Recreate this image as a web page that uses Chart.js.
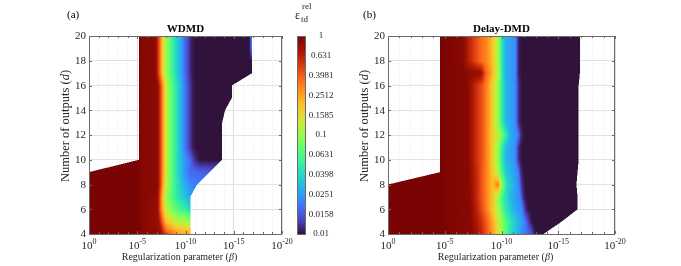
<!DOCTYPE html>
<html>
<head>
<meta charset="utf-8">
<script src="https://cdn.jsdelivr.net/npm/chart.js@4.4.0/dist/chart.umd.min.js"></script>
<style>
body { margin: 0; background: #fff; width: 681px; height: 266px; overflow: hidden; position: relative; }
canvas { position: absolute; top: 0; }
</style>
</head>
<body>
<canvas id="wdmdChart" width="340" height="266" style="left:0"></canvas>
<canvas id="delayChart" width="341" height="266" style="left:340px"></canvas>
<script>
// number of outputs d (rows of the grid)
const outputs = [4, 5, 6, 7, 8, 9, 10, 11, 12, 13, 14, 15, 16, 17, 18, 19, 20];
const betaTicks = [0, -5, -10, -15, -20];          // log10(beta)
const outputTicks = [4, 6, 8, 10, 12, 14, 16, 18, 20];
const cbarTicks = [0.01, 0.0158, 0.0251, 0.0398, 0.0631, 0.1, 0.1585, 0.2512, 0.3981, 0.631, 1];
const cbarLabels = ['0.01', '0.0158', '0.0251', '0.0398', '0.0631', '0.1', '0.1585', '0.2512', '0.3981', '0.631', '1'];

// each row: [log10(beta), eps_td^rel] pairs for d = 4..20, first and last pair bound the data
const wdmdRows = [
  [[0,1],[-5.2,1],[-5.4,0.93],[-7.4,0.85],[-8.0,0.45],[-8.9,0.3],[-9.5,0.25],[-10.5,0.25]],
  [[0,1],[-5.2,1],[-5.4,0.93],[-7.2,0.8],[-7.6,0.4],[-8.0,0.2],[-9.0,0.13],[-10.0,0.11],[-10.5,0.1]],
  [[0,1],[-5.2,1],[-5.4,0.93],[-7.1,0.8],[-7.5,0.32],[-8.0,0.12],[-9.0,0.07],[-10.0,0.05],[-10.5,0.04]],
  [[0,1],[-5.2,1],[-5.4,0.93],[-7.1,0.85],[-7.5,0.3],[-8.0,0.1],[-9.0,0.05],[-10.0,0.032],[-10.5,0.025]],
  [[0,1],[-5.2,1],[-5.4,0.93],[-7.1,0.88],[-7.4,0.5],[-7.6,0.3],[-7.9,0.15],[-8.3,0.09],[-9.0,0.05],[-9.8,0.03],[-10.5,0.022],[-11.2,0.02]],
  [[0,1],[-5.2,1],[-5.4,0.93],[-7.1,0.88],[-7.4,0.5],[-7.6,0.32],[-7.9,0.16],[-8.2,0.1],[-8.7,0.063],[-9.2,0.04],[-9.8,0.025],[-10.5,0.018],[-12.5,0.016]],
  [[-5.2,1],[-5.4,0.93],[-7.1,0.88],[-7.4,0.5],[-7.6,0.32],[-7.9,0.16],[-8.2,0.1],[-8.7,0.063],[-9.2,0.04],[-9.7,0.028],[-10.3,0.02],[-11.0,0.012],[-11.5,0.01],[-13.8,0.01]],
  [[-5.2,1],[-5.4,0.93],[-7.1,0.88],[-7.4,0.5],[-7.6,0.32],[-7.9,0.16],[-8.2,0.1],[-8.7,0.063],[-9.2,0.04],[-9.6,0.028],[-10.1,0.017],[-10.7,0.011],[-11.1,0.01],[-13.8,0.01]],
  [[-5.2,1],[-5.4,0.93],[-7.1,0.88],[-7.4,0.5],[-7.6,0.32],[-7.9,0.16],[-8.2,0.1],[-8.7,0.063],[-9.2,0.04],[-9.6,0.028],[-10.1,0.017],[-10.7,0.011],[-11.1,0.01],[-13.8,0.01]],
  [[-5.2,1],[-5.4,0.93],[-7.1,0.88],[-7.4,0.5],[-7.6,0.32],[-7.9,0.16],[-8.2,0.1],[-8.7,0.063],[-9.2,0.04],[-9.6,0.028],[-10.1,0.017],[-10.7,0.011],[-11.1,0.01],[-13.8,0.01]],
  [[-5.2,1],[-5.4,0.93],[-7.1,0.88],[-7.4,0.5],[-7.6,0.32],[-7.9,0.16],[-8.2,0.1],[-8.7,0.063],[-9.2,0.04],[-9.6,0.028],[-10.1,0.017],[-10.7,0.011],[-11.1,0.01],[-14.1,0.01]],
  [[-5.2,1],[-5.4,0.93],[-7.1,0.88],[-7.4,0.5],[-7.6,0.32],[-7.9,0.16],[-8.2,0.1],[-8.7,0.063],[-9.2,0.04],[-9.6,0.028],[-10.1,0.017],[-10.7,0.011],[-11.1,0.01],[-14.8,0.01]],
  [[-5.2,1],[-5.4,0.93],[-7.1,0.88],[-7.4,0.5],[-7.6,0.32],[-7.9,0.16],[-8.2,0.1],[-8.7,0.063],[-9.2,0.04],[-9.6,0.028],[-10.1,0.017],[-10.7,0.011],[-11.1,0.01],[-14.8,0.01]],
  [[-5.2,1],[-5.4,0.93],[-6.9,0.88],[-7.2,0.5],[-7.4,0.32],[-7.7,0.16],[-8.0,0.1],[-8.5,0.063],[-9.0,0.04],[-9.5,0.028],[-10.0,0.017],[-10.6,0.011],[-11.0,0.01],[-16.9,0.01]],
  [[-5.2,1],[-5.4,0.93],[-6.9,0.88],[-7.2,0.5],[-7.4,0.32],[-7.7,0.16],[-8.0,0.1],[-8.5,0.063],[-9.0,0.04],[-9.5,0.028],[-10.0,0.017],[-10.6,0.011],[-11.0,0.01],[-16.9,0.01]],
  [[-5.2,1],[-5.4,0.93],[-6.9,0.88],[-7.2,0.5],[-7.4,0.32],[-7.7,0.16],[-8.0,0.1],[-8.5,0.063],[-9.0,0.04],[-9.5,0.028],[-10.0,0.017],[-10.6,0.011],[-11.0,0.01],[-16.6,0.01],[-16.9,0.022]],
  [[-5.2,1],[-5.4,0.93],[-6.9,0.88],[-7.2,0.5],[-7.4,0.32],[-7.7,0.16],[-8.0,0.1],[-8.5,0.063],[-9.0,0.04],[-9.5,0.028],[-10.0,0.017],[-10.6,0.011],[-11.0,0.01],[-16.6,0.01],[-16.9,0.022]]
];

const delayRows = [
  [[0,1],[-4.6,1],[-7.4,0.9],[-8.2,0.6],[-8.9,0.35],[-9.5,0.2],[-10.2,0.08],[-10.9,0.04],[-11.8,0.023],[-12.6,0.016],[-13.0,0.01],[-13.7,0.01]],
  [[0,1],[-4.6,1],[-7.3,0.9],[-8.1,0.6],[-8.7,0.4],[-9.3,0.22],[-9.9,0.11],[-10.5,0.06],[-11.2,0.035],[-12.0,0.022],[-12.4,0.013],[-12.7,0.01],[-15.3,0.01]],
  [[0,1],[-4.6,1],[-7.2,0.9],[-8.0,0.55],[-8.6,0.35],[-9.2,0.2],[-9.8,0.1],[-10.3,0.05],[-11.0,0.03],[-11.8,0.022],[-12.1,0.012],[-12.4,0.01],[-16.7,0.01]],
  [[0,1],[-4.6,1],[-7.2,0.9],[-7.9,0.55],[-8.6,0.33],[-9.2,0.2],[-9.7,0.1],[-10.2,0.05],[-10.8,0.03],[-11.6,0.022],[-11.9,0.012],[-12.2,0.01],[-16.7,0.01]],
  [[0,1],[-4.6,1],[-7.1,0.9],[-7.9,0.55],[-8.6,0.33],[-9.2,0.2],[-9.7,0.35],[-10.0,0.1],[-10.5,0.04],[-11.5,0.022],[-11.8,0.012],[-12.1,0.01],[-16.6,0.01]],
  [[-4.6,1],[-7.1,0.9],[-7.9,0.55],[-8.6,0.33],[-9.2,0.2],[-9.6,0.12],[-10.0,0.063],[-10.4,0.035],[-11.4,0.023],[-11.7,0.012],[-12.0,0.01],[-16.7,0.01]],
  [[-4.6,1],[-7.0,0.9],[-7.8,0.55],[-8.4,0.4],[-8.9,0.25],[-9.3,0.158],[-9.7,0.1],[-10.1,0.046],[-10.4,0.03],[-11.2,0.023],[-11.5,0.012],[-11.8,0.01],[-16.8,0.01]],
  [[-4.6,1],[-7.0,0.9],[-7.8,0.55],[-8.4,0.4],[-8.9,0.25],[-9.3,0.158],[-9.7,0.1],[-10.1,0.046],[-10.4,0.03],[-11.2,0.023],[-11.5,0.012],[-11.8,0.01],[-16.8,0.01]],
  [[-4.6,1],[-7.0,0.9],[-7.8,0.55],[-8.4,0.4],[-8.9,0.25],[-9.4,0.158],[-9.9,0.1],[-10.4,0.05],[-10.7,0.03],[-11.4,0.022],[-11.7,0.012],[-12.0,0.01],[-16.8,0.01]],
  [[-4.6,1],[-7.0,0.9],[-7.8,0.55],[-8.4,0.4],[-8.9,0.25],[-9.3,0.158],[-9.7,0.1],[-10.1,0.046],[-10.4,0.03],[-11.2,0.023],[-11.5,0.012],[-11.8,0.01],[-16.8,0.01]],
  [[-4.6,1],[-7.0,0.9],[-7.8,0.55],[-8.4,0.4],[-8.9,0.25],[-9.3,0.158],[-9.7,0.1],[-10.1,0.046],[-10.4,0.03],[-11.2,0.023],[-11.5,0.012],[-11.8,0.01],[-16.8,0.01]],
  [[-4.6,1],[-7.0,0.9],[-7.8,0.55],[-8.4,0.4],[-8.9,0.25],[-9.3,0.158],[-9.7,0.1],[-10.1,0.046],[-10.4,0.03],[-11.2,0.023],[-11.5,0.012],[-11.8,0.01],[-16.8,0.01]],
  [[-4.6,1],[-7.0,0.9],[-7.8,0.55],[-8.4,0.4],[-8.9,0.25],[-9.3,0.158],[-9.7,0.1],[-10.1,0.046],[-10.4,0.03],[-11.2,0.023],[-11.5,0.012],[-11.8,0.01],[-16.8,0.01]],
  [[-4.6,1],[-7.0,0.9],[-8.2,0.8],[-8.6,0.4],[-9.1,0.25],[-9.5,0.158],[-9.9,0.079],[-10.1,0.04],[-10.4,0.028],[-11.2,0.023],[-11.5,0.011],[-11.8,0.01],[-16.9,0.01]],
  [[-4.6,1],[-6.6,0.9],[-7.2,0.6],[-8.0,0.4],[-8.7,0.3],[-9.2,0.2],[-9.6,0.125],[-9.9,0.07],[-10.1,0.04],[-10.4,0.028],[-11.2,0.023],[-11.5,0.011],[-11.8,0.01],[-16.9,0.01]],
  [[-4.6,1],[-6.6,0.9],[-7.2,0.6],[-8.0,0.4],[-8.7,0.3],[-9.2,0.2],[-9.6,0.125],[-9.9,0.07],[-10.1,0.04],[-10.4,0.028],[-11.2,0.023],[-11.5,0.011],[-11.8,0.01],[-16.9,0.01]],
  [[-4.6,1],[-6.6,0.9],[-7.2,0.6],[-8.0,0.4],[-8.7,0.3],[-9.2,0.2],[-9.6,0.125],[-9.9,0.07],[-10.1,0.04],[-10.4,0.028],[-11.2,0.023],[-11.5,0.011],[-11.8,0.01],[-16.9,0.01]]
];

const SERIF = '"Liberation Serif", "Times New Roman", serif';

// turbo colormap (polynomial fit, true end colours)
function turboPoly(t) {
    const r = 0.13572138 + t * (4.61539260 + t * (-42.66032258 + t * (132.13108234 + t * (-152.94239396 + t * 59.28637943))));
    const g = 0.09140261 + t * (2.19418839 + t * (4.84296658 + t * (-14.18503333 + t * (4.27729857 + t * 2.82956604))));
    const b = 0.10667330 + t * (12.64194608 + t * (-60.58204836 + t * (110.36276771 + t * (-89.90310912 + t * 27.34824973))));
    return [r * 255, g * 255, b * 255].map(v => Math.max(0, Math.min(255, v)));
}
function turbo(t) {
    t = Math.max(0, Math.min(1, t));
    if (t < 0.06) {
        const a = [48, 18, 59], b = turboPoly(0.06), f = t / 0.06;
        return a.map((v, i) => v + f * (b[i] - v));
    }
    if (t > 0.94) {
        const a = turboPoly(0.94), b = [122, 4, 3], f = (t - 0.94) / 0.06;
        return a.map((v, i) => v + f * (b[i] - v));
    }
    return turboPoly(t);
}

function rowLog(row, e) {
    if (e >= row[0][0]) return Math.log10(row[0][1]);
    for (let k = 1; k < row.length; k++) {
        if (e >= row[k][0]) {
            const a = row[k - 1], b = row[k];
            const f = (e - a[0]) / (b[0] - a[0]);
            return Math.log10(a[1]) + f * (Math.log10(b[1]) - Math.log10(a[1]));
        }
    }
    return Math.log10(row[row.length - 1][1]);
}

function sampleGrid(rows, e, d) {
    if (d < outputs[0] || d > outputs[outputs.length - 1]) return null;
    const i = Math.min(Math.floor(d - outputs[0]), rows.length - 2);
    const t = d - outputs[i];
    const A = rows[i], B = rows[i + 1];
    const lo = A[0][0] + t * (B[0][0] - A[0][0]);
    const hi = A[A.length - 1][0] + t * (B[B.length - 1][0] - A[A.length - 1][0]);
    if (e > lo + 1e-9 || e < hi - 1e-9) return null;
    return rowLog(A, e) * (1 - t) + rowLog(B, e) * t;
}

function contourPlugin(rows) {
    return {
        id: 'contour',
        beforeDatasetsDraw(chart) {
            const xs = chart.scales.x, ys = chart.scales.y, area = chart.chartArea;
            const w = Math.round(area.right - area.left), h = Math.round(area.bottom - area.top);
            const off = document.createElement('canvas');
            off.width = w; off.height = h;
            const octx = off.getContext('2d');
            const img = octx.createImageData(w, h);
            const sub = [0.25, 0.75];
            for (let py = 0; py < h; py++) {
                for (let px = 0; px < w; px++) {
                    let r = 0, g = 0, b = 0, n = 0;
                    for (const sy of sub) {
                        const d = ys.getValueForPixel(area.top + py + sy);
                        for (const sx of sub) {
                            const e = xs.getValueForPixel(area.left + px + sx);
                            const v = sampleGrid(rows, e, d);
                            if (v === null) continue;
                            const c = turbo((v + 2) / 2);
                            r += c[0]; g += c[1]; b += c[2]; n++;
                        }
                    }
                    if (!n) continue;
                    const k = (py * w + px) * 4;
                    img.data[k] = r / n; img.data[k + 1] = g / n; img.data[k + 2] = b / n;
                    img.data[k + 3] = 255 * n / 4;
                }
            }
            octx.putImageData(img, 0, 0);
            chart.ctx.drawImage(off, area.left, area.top);
        }
    };
}

function decorPlugin(cfg) {
    return {
        id: 'decor',
        afterDraw(chart) {
            const ctx = chart.ctx, area = chart.chartArea;
            const xs = chart.scales.x, ys = chart.scales.y;
            ctx.save();
            // box
            ctx.strokeStyle = '#6a6a6a';
            ctx.lineWidth = 1;
            ctx.strokeRect(area.left + 0.5, area.top + 0.5, area.right - area.left - 1, area.bottom - area.top);
            // ticks
            ctx.beginPath();
            for (let e = 0; e >= -20; e--) {
                const x = Math.round(xs.getPixelForValue(e)) + 0.5;
                const len = e % 5 === 0 ? 3 : 2;
                ctx.moveTo(x, area.bottom); ctx.lineTo(x, area.bottom - len);
                ctx.moveTo(x, area.top); ctx.lineTo(x, area.top + len);
            }
            outputTicks.forEach(d => {
                const y = Math.round(ys.getPixelForValue(d)) + 0.5;
                ctx.moveTo(area.left, y); ctx.lineTo(area.left + 3, y);
                ctx.moveTo(area.right, y); ctx.lineTo(area.right - 3, y);
            });
            ctx.stroke();

            ctx.fillStyle = '#262626';
            // y tick labels
            ctx.font = '11px ' + SERIF;
            ctx.textAlign = 'right';
            ctx.textBaseline = 'middle';
            outputTicks.forEach(d => ctx.fillText(String(d), area.left - 3, ys.getPixelForValue(d) + 0.5));
            // x tick labels 10^e
            ctx.textAlign = 'left';
            ctx.textBaseline = 'alphabetic';
            betaTicks.forEach(e => {
                const sup = e === 0 ? '0' : '-' + Math.abs(e);
                ctx.font = '11px ' + SERIF;
                const w1 = ctx.measureText('10').width;
                ctx.font = '8px ' + SERIF;
                const w2 = ctx.measureText(sup).width;
                const x0 = xs.getPixelForValue(e) - (w1 + w2) / 2;
                ctx.font = '11px ' + SERIF;
                ctx.fillText('10', x0, 249);
                ctx.font = '8px ' + SERIF;
                ctx.fillText(sup, x0 + w1, 244);
            });
            // axis titles
            const cx = (area.left + area.right) / 2;
            ctx.font = '10px ' + SERIF;
            ctx.textAlign = 'left';
            const t1 = 'Regularization parameter (', t2 = '\u03b2', t3 = ')';
            const w1 = ctx.measureText(t1).width;
            ctx.font = 'italic 10px ' + SERIF;
            const w2 = ctx.measureText(t2).width;
            ctx.font = '10px ' + SERIF;
            const w3 = ctx.measureText(t3).width;
            let xt = cx - 6 - (w1 + w2 + w3) / 2;
            ctx.fillText(t1, xt, 260);
            ctx.font = 'italic 10px ' + SERIF;
            ctx.fillText(t2, xt + w1, 260);
            ctx.font = '10px ' + SERIF;
            ctx.fillText(t3, xt + w1 + w2, 260);

            ctx.save();
            ctx.translate(cfg.yTitleX, (area.top + area.bottom) / 2 - 9);
            ctx.rotate(-Math.PI / 2);
            ctx.font = '12.5px ' + SERIF;
            const s1 = 'Number of outputs (', s2 = 'd', s3 = ')';
            const v1 = ctx.measureText(s1).width;
            ctx.font = 'italic 12.5px ' + SERIF;
            const v2 = ctx.measureText(s2).width;
            ctx.font = '12.5px ' + SERIF;
            const v3 = ctx.measureText(s3).width;
            const y0 = -(v1 + v2 + v3) / 2;
            ctx.fillText(s1, y0, 0);
            ctx.font = 'italic 12.5px ' + SERIF;
            ctx.fillText(s2, y0 + v1, 0);
            ctx.font = '12.5px ' + SERIF;
            ctx.fillText(s3, y0 + v1 + v2, 0);
            ctx.restore();

            // panel title and tag
            ctx.fillStyle = '#000';
            ctx.textAlign = 'center';
            ctx.font = 'bold 11px ' + SERIF;
            ctx.fillText(cfg.title, cx, 32);
            ctx.textAlign = 'left';
            ctx.font = '11px ' + SERIF;
            ctx.fillText(cfg.tag, cfg.tagX, 18);

            if (cfg.colorbar) {
                const cs = chart.scales.c;
                const bx = 297, bw = 8;
                for (let y = Math.floor(area.top); y < area.bottom; y++) {
                    const v = cs.getValueForPixel(y + 0.5);
                    const c = turbo((Math.log10(v) + 2) / 2);
                    ctx.fillStyle = 'rgb(' + c.map(Math.round).join(',') + ')';
                    ctx.fillRect(bx, y, bw, 1);
                }
                ctx.strokeStyle = '#6a6a6a';
                ctx.strokeRect(bx + 0.5, area.top + 0.5, bw, area.bottom - area.top);
                ctx.fillStyle = '#262626';
                ctx.textAlign = 'center';
                ctx.textBaseline = 'middle';
                ctx.font = '9px ' + SERIF;
                cbarTicks.forEach((v, i) => ctx.fillText(cbarLabels[i], 321, cs.getPixelForValue(v)));
                // colorbar label eps_td^rel
                ctx.textBaseline = 'alphabetic';
                ctx.textAlign = 'left';
                ctx.font = '12px ' + SERIF;
                ctx.fillText('\u03b5', 295, 19);
                ctx.font = '9px ' + SERIF;
                ctx.fillText('rel', 302, 9);
                ctx.fillText('td', 301, 22);
            }
            ctx.restore();
        }
    };
}

function makePanel(id, rows, cfg) {
    const scales = {
        x: {
            type: 'linear', min: -20, max: 0, reverse: true,
            afterFit: s => { s.height = 0; },
            ticks: { display: false, stepSize: 1 },
            grid: {
                drawTicks: false, lineWidth: 1,
                color: c => (c.tick && c.tick.value % 5 === 0) ? '#dedede' : '#ececec'
            },
            border: { display: false, dash: c => (c.tick && c.tick.value % 5 !== 0) ? [1, 2] : [] }
        },
        y: {
            type: 'linear', min: 4, max: 20,
            afterFit: s => { s.width = 0; },
            ticks: { display: false, stepSize: 2 },
            grid: { drawTicks: false, color: '#e2e2e2' },
            border: { display: false }
        }
    };
    if (cfg.colorbar) {
        scales.c = { type: 'logarithmic', axis: 'y', position: 'right', min: 0.01, max: 1, display: false };
    }
    return new Chart(document.getElementById(id), {
        type: 'scatter',
        data: { datasets: [{ data: [], pointRadius: 0 }] },
        options: {
            responsive: false,
            animation: false,
            events: [],
            layout: { padding: cfg.padding },
            plugins: { legend: { display: false }, tooltip: { enabled: false } },
            scales: scales
        },
        plugins: [contourPlugin(rows), decorPlugin(cfg)]
    });
}

makePanel('wdmdChart', wdmdRows, {
    title: 'WDMD', tag: '(a)', tagX: 67, yTitleX: 69, colorbar: true,
    padding: { left: 89, right: 58, top: 36, bottom: 32 }
});
makePanel('delayChart', delayRows, {
    title: 'Delay-DMD', tag: '(b)', tagX: 23, yTitleX: 28, colorbar: false,
    padding: { left: 48, right: 66, top: 36, bottom: 32 }
});
</script>
</body>
</html>
